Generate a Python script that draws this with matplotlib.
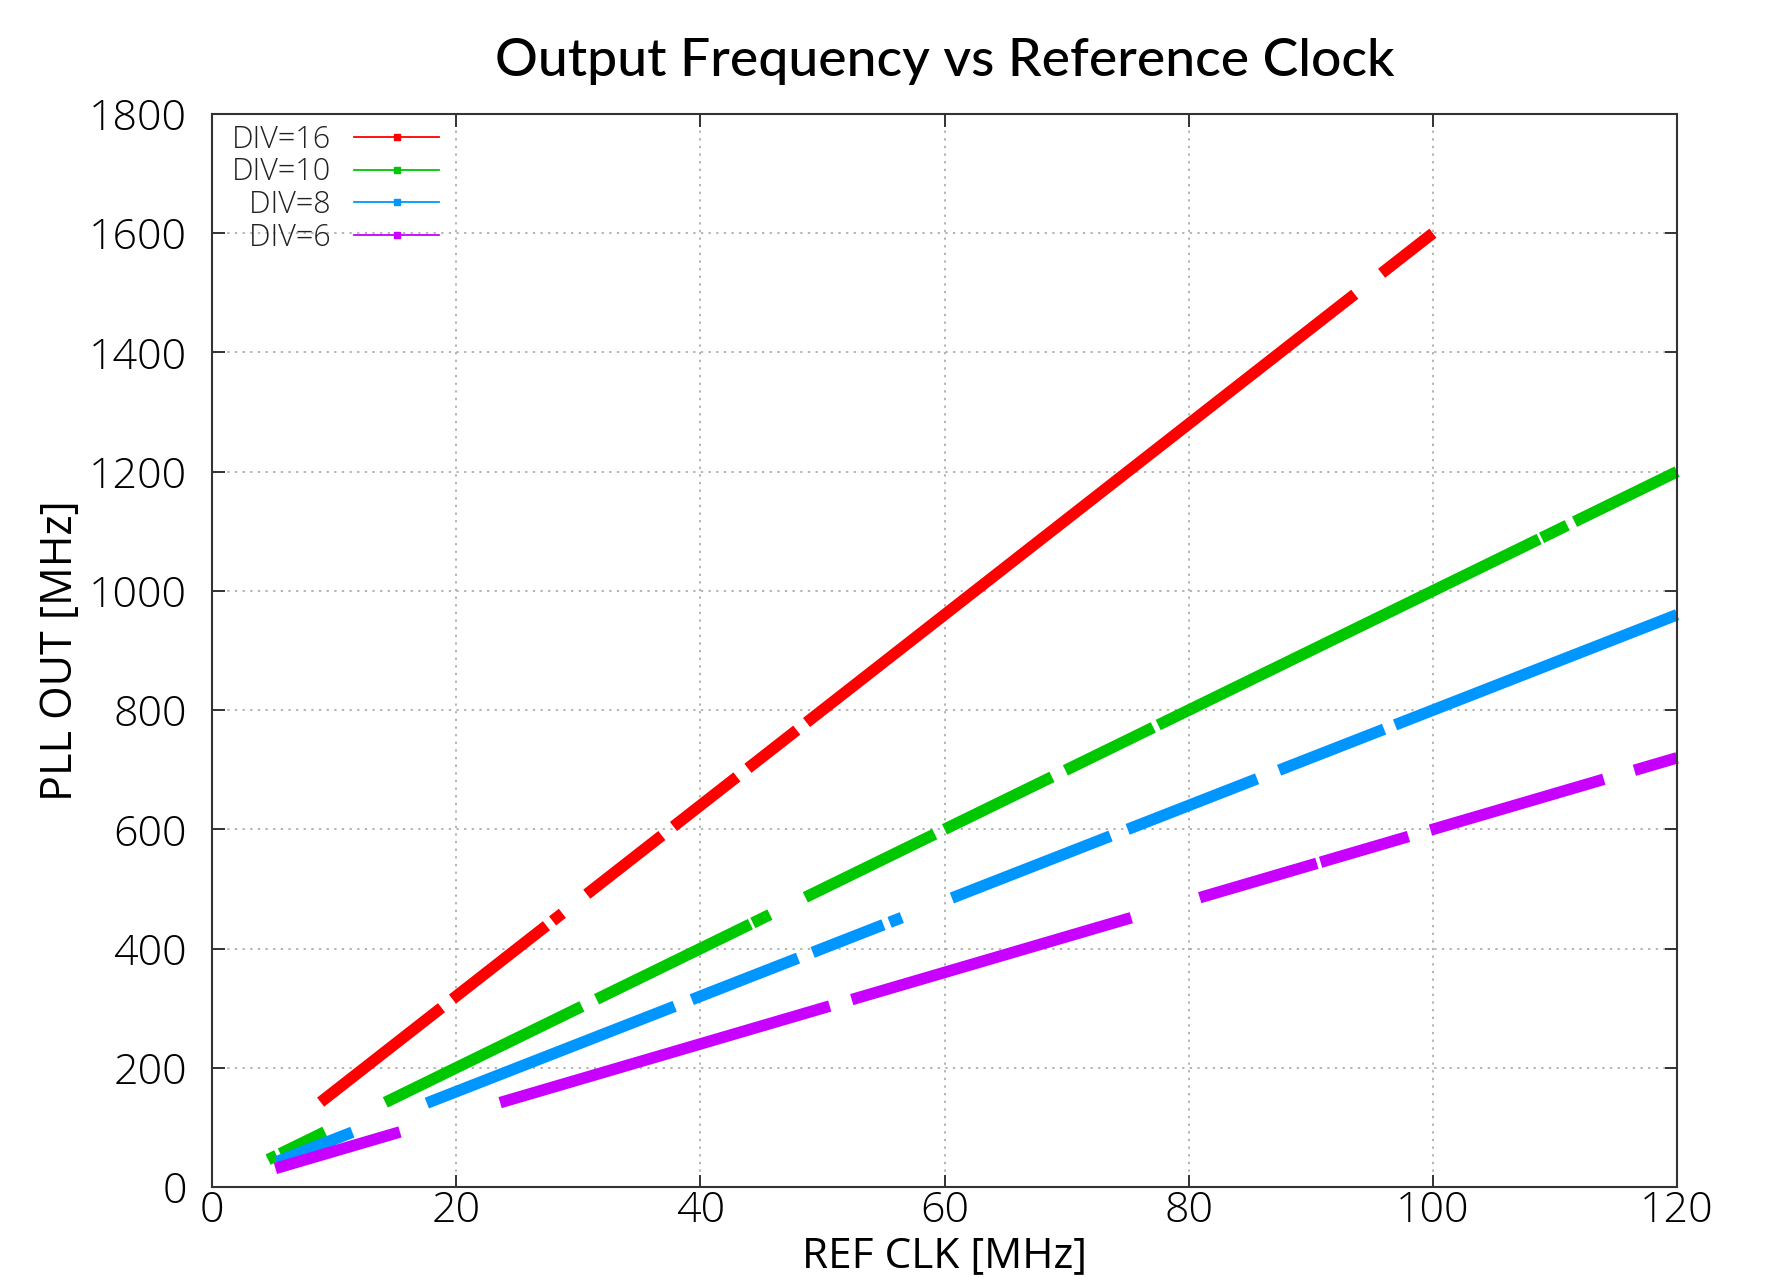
import matplotlib
matplotlib.use('Agg')
import matplotlib.pyplot as plt
from matplotlib.lines import Line2D

# PLL output = REF CLK * DIV, only where the VCO locks (segments)
divs = [16, 10, 8, 6]
labels = ['DIV=16', 'DIV=10', '\u2007DIV=8', '\u2007DIV=6']
colours = ['#ff0000', '#00c800', '#0096ff', '#c800ff']

# [start, end] of each drawn run of REF CLK values (MHz)
seg_div16 = [[8.9, 18.8], [19.7, 27.4], [27.9, 28.7], [30.7, 36.85], [37.8, 43.0],
             [43.9, 47.9], [48.7, 93.6], [95.8, 100.0]]
seg_div10 = [[4.6, 5.3], [5.6, 9.25], [14.2, 30.3], [31.5, 44.1], [44.3, 45.7],
             [48.6, 59.2], [60.0, 68.8], [69.9, 77.1], [77.5, 108.7], [108.9, 111.0],
             [111.6, 120.0]]
seg_div8 = [[5.3, 11.5], [17.6, 37.9], [39.3, 48.0], [49.2, 55.0], [55.5, 56.5],
            [60.6, 73.6], [75.0, 85.6], [87.4, 96.0], [96.9, 120.0]]
seg_div6 = [[5.2, 15.4], [23.6, 50.6], [52.4, 75.3], [80.9, 90.5], [90.8, 98.0],
            [99.8, 114.0], [116.5, 120.0]]
segments = [seg_div16, seg_div10, seg_div8, seg_div6]

x_ticks = [0, 20, 40, 60, 80, 100, 120]
y_ticks = [0, 200, 400, 600, 800, 1000, 1200, 1400, 1600, 1800]

plt.rcParams['font.family'] = ['Open Sans', 'DejaVu Sans']
plt.rcParams['font.weight'] = 'light'

fig = plt.figure(figsize=(17.87, 12.79), dpi=100)
ax = fig.add_axes([0.1186, 0.0719, 0.8199, 0.839])

for div, segs, colour in zip(divs, segments, colours):
    for x0, x1 in segs:
        ax.plot([x0, x1], [div * x0, div * x1], color=colour, lw=8.3,
                solid_capstyle='butt', clip_on=False)

ax.set_xlim(0, 120)
ax.set_ylim(0, 1800)
ax.set_xticks(x_ticks)
ax.set_yticks(y_ticks)
ax.tick_params(axis='both', direction='in', length=9, width=1.4, labelsize=31,
               top=True, right=True, colors='#333333', labelcolor='black')
ax.tick_params(axis='x', pad=2)
ax.tick_params(axis='y', pad=18)
ax.grid(True, color='#a0a0a0', linestyle=(0, (1.5, 3.5)), lw=1.1)
for sp in ax.spines.values():
    sp.set_color('#333333')
    sp.set_linewidth(1.5)

ax.set_title('Output Frequency vs Reference Clock', fontsize=38.5, family='Lato',
             fontweight='medium', pad=27)
ax.set_xlabel('REF CLK [MHz]', fontsize=30.5)
ax.set_ylabel('PLL OUT [MHz]', fontsize=31)
ax.xaxis.set_label_coords(0.5, -0.0445)
ax.yaxis.set_label_coords(-0.088, 0.5)

handles = [Line2D([], [], color=c, lw=1.3, marker='s', markersize=5) for c in colours]
leg = ax.legend(handles, labels, loc='upper left', bbox_to_anchor=(0.003, 1.005),
                borderaxespad=0.1, frameon=False, markerfirst=False, numpoints=1,
                fontsize=22, handlelength=2.8, handletextpad=0.75, labelspacing=0.02)
for t in leg.get_texts():
    t.set_color('#222222')

fig.savefig('out.png', dpi=100)
